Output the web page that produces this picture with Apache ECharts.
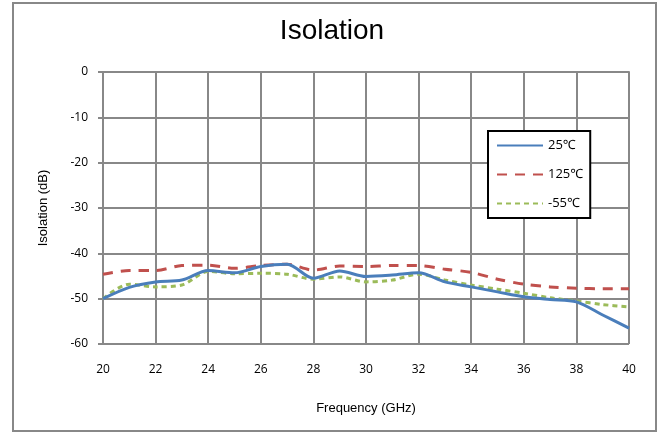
<!DOCTYPE html>
<html>
<head>
<meta charset="utf-8">
<script src="https://cdn.jsdelivr.net/npm/echarts@6/dist/echarts.min.js"></script>
<style>
  html, body { margin: 0; padding: 0; background: #fff; }
  #chart { width: 664px; height: 434px; }
</style>
</head>
<body>
<div id="chart"></div>
<script>
// Frequency points (GHz)
const freq = [20, 21, 22, 23, 24, 25, 26, 27, 28, 29, 30, 31, 32, 33, 34, 35, 36, 37, 38, 39, 40];

// Isolation (dB)
const iso25 = [-50, -47.5, -46.3, -45.9, -43.8, -44.3, -42.9, -42.4, -45.5, -43.9, -45.1, -44.8, -44.3, -46.3, -47.4, -48.5, -49.6, -50.2, -50.7, -53.6, -56.5];
const iso125 = [-44.6, -43.8, -43.8, -42.7, -42.6, -43.3, -42.7, -42.4, -43.7, -42.8, -42.9, -42.7, -42.7, -43.5, -44.2, -45.7, -46.8, -47.4, -47.7, -47.8, -47.8];
const isoM55 = [-50, -46.8, -47.4, -47.0, -44.0, -44.5, -44.4, -44.6, -45.7, -45.2, -46.3, -45.9, -44.6, -45.9, -47.0, -47.9, -48.8, -49.8, -50.5, -51.3, -51.8];

const seriesNames = ["25\u2103", "125\u2103", "-55\u2103"];

const pairs = (vals) => freq.map((f, i) => [f, vals[i]]);

const chart = echarts.init(document.getElementById("chart"), null, { renderer: "canvas" });

const font = "'Liberation Sans Narrow', 'Liberation Sans', Arial, sans-serif";
const labelFont = "'Open Sans', 'Noto Sans', sans-serif";
const gridColor = "#888888";

chart.setOption({
  animation: false,
  backgroundColor: "#ffffff",
  title: {
    text: "Isolation",
    left: "center",
    top: 12,
    textStyle: { fontFamily: font, fontSize: 28, fontWeight: "normal", color: "#000" },
  },
  graphic: [
    {
      // outer chart frame
      type: "rect",
      shape: { x: 13, y: 3, width: 643, height: 428 },
      style: { fill: "none", stroke: "#888888", lineWidth: 2 },
      silent: true,
    },
  ],
  grid: { left: 103, right: 35, top: 72, bottom: 90 },
  legend: {
    orient: "vertical",
    left: 488,
    top: 131,
    padding: [8, 7, 8, 8],
    itemGap: 16,
    itemWidth: 46,
    itemHeight: 14,
    borderColor: "#000",
    borderWidth: 2,
    backgroundColor: "#fff",
    itemStyle: { opacity: 0 },
    textStyle: { fontFamily: labelFont, fontSize: 13, color: "#000" },
    data: seriesNames,
  },
  xAxis: {
    type: "value",
    min: 20,
    max: 40,
    interval: 2,
    name: "Frequency (GHz)",
    nameLocation: "middle",
    nameGap: 58,
    nameTextStyle: { fontFamily: font, fontSize: 13, color: "#000" },
    axisLine: { lineStyle: { color: gridColor, width: 2 } },
    axisTick: { show: true, length: 5, lineStyle: { color: gridColor, width: 2 } },
    axisLabel: { margin: 20, fontFamily: labelFont, fontSize: 12, color: "#000" },
    splitLine: { show: true, lineStyle: { color: gridColor, width: 2 } },
  },
  yAxis: {
    type: "value",
    min: -60,
    max: 0,
    interval: 10,
    name: "Isolation (dB)",
    nameLocation: "middle",
    nameRotate: 90,
    nameGap: 53,
    nameTextStyle: { fontFamily: font, fontSize: 13, color: "#000" },
    axisLine: { show: true, lineStyle: { color: gridColor, width: 2 } },
    axisTick: { show: true, length: 5, lineStyle: { color: gridColor, width: 2 } },
    axisLabel: { margin: 15, fontFamily: labelFont, fontSize: 12, color: "#000" },
    splitLine: { show: true, lineStyle: { color: gridColor, width: 2 } },
  },
  series: [
    {
      name: seriesNames[0],
      type: "line",
      data: pairs(iso25),
      smooth: 0.3,
      symbol: "none",
      lineStyle: { color: "#4a7ebb", width: 3 },
      itemStyle: { color: "#4a7ebb" },
      z: 4,
    },
    {
      name: seriesNames[1],
      type: "line",
      data: pairs(iso125),
      smooth: 0.3,
      symbol: "none",
      lineStyle: { color: "#c0504d", width: 3, type: [10, 8] },
      itemStyle: { color: "#c0504d" },
      z: 3,
    },
    {
      name: seriesNames[2],
      type: "line",
      data: pairs(isoM55),
      smooth: 0.3,
      symbol: "none",
      lineStyle: { color: "#9bbb59", width: 3, type: [5, 4] },
      itemStyle: { color: "#9bbb59" },
      z: 2,
    },
  ],
});
</script>
</body>
</html>
